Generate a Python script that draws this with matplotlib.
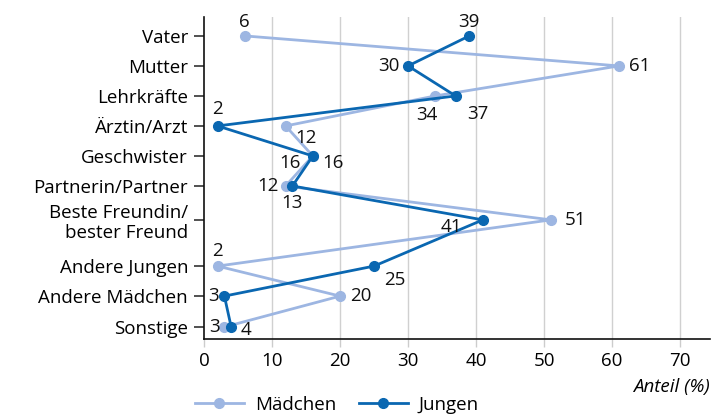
import matplotlib.pyplot as plt

# categories (top to bottom) and shares in percent
categories = ["Vater", "Mutter", "Lehrkräfte", "Ärztin/Arzt", "Geschwister",
              "Partnerin/Partner", "Beste Freundin/\nbester Freund",
              "Andere Jungen", "Andere Mädchen", "Sonstige"]
maedchen = [6, 61, 34, 12, 16, 12, 51, 2, 20, 3]
jungen = [39, 30, 37, 2, 16, 13, 41, 25, 3, 4]

# row positions (two-line label gets a little extra room)
ypos = [0, 1, 2, 3, 4, 5, 6.13, 7.67, 8.67, 9.7]

# label offsets in points (dx, dy, ha)
off_m = [(0, 10, "center"), (7, 0, "left"), (-6, -14, "center"), (7, -9, "left"),
         (7, -5, "left"), (-5, 0, "right"), (10, 0, "left"), (0, 11, "center"),
         (7, 0, "left"), (-3, 0, "right")]
off_j = [(0, 10, "center"), (-6, 0, "right"), (8, -13, "left"), (0, 12, "center"),
         (-9, -5, "right"), (0, -12, "center"), (-15, -5, "right"), (7, -10, "left"),
         (-4, 0, "right"), (7, -2, "left")]

light = "#9db6e2"
dark = "#0a67b1"

plt.rcParams["font.family"] = ["Open Sans", "DejaVu Sans"]

fig = plt.figure(figsize=(7.27, 4.19), dpi=100)
ax = fig.add_axes([0.2806, 0.1909, 0.696, 0.7685])

ax.plot(maedchen, ypos, color=light, lw=2, marker="o", ms=7, label="Mädchen", zorder=3)
ax.plot(jungen, ypos, color=dark, lw=2, marker="o", ms=7, label="Jungen", zorder=4)

for vals, offs in ((maedchen, off_m), (jungen, off_j)):
    for v, y, (dx, dy, ha) in zip(vals, ypos, offs):
        ax.annotate(str(v), (v, y), xytext=(dx, dy), textcoords="offset points",
                    ha=ha, va="center", fontsize=13.5, color="#111111", zorder=5)

ax.set_xlim(0, 74.4)
ax.set_ylim(10.1, -0.63)
ax.set_xticks(range(0, 80, 10))
ax.set_yticks(ypos)
ax.set_yticklabels(categories, fontsize=13.5, linespacing=1.15)
ax.tick_params(axis="y", length=7.5, width=1.2, color="#333333", pad=4)
ax.tick_params(axis="x", length=6, width=1, color="#cccccc", labelsize=13.5, pad=3)

for x in range(10, 80, 10):
    ax.axvline(x, color="#d0d0d0", lw=1, zorder=1)

for s in ("top", "right"):
    ax.spines[s].set_visible(False)
for s in ("left", "bottom"):
    ax.spines[s].set_linewidth(1.2)
    ax.spines[s].set_color("#111111")

ax.text(1.0, -0.15, "Anteil (%)", transform=ax.transAxes, ha="right", va="center",
        fontsize=13.5, style="italic")

fig.legend(loc="center", bbox_to_anchor=(337 / 727, 1 - 405 / 419), ncol=2,
           frameon=False, fontsize=13.5, handlelength=2.6, columnspacing=1.2,
           handletextpad=0.6)

fig.savefig("out.png", dpi=100)
